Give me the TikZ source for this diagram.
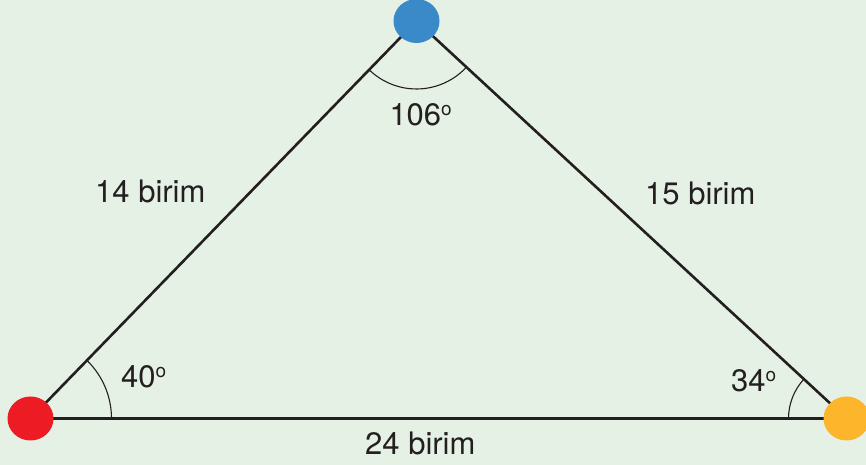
\documentclass[tikz,border=0pt]{standalone}
\usepackage{fontspec}
\setmainfont{TeX Gyre Heros}
\usetikzlibrary{shapes.geometric}
\definecolor{bg}{HTML}{E6F1E5}
\definecolor{ink}{HTML}{231F20}
\definecolor{dotred}{HTML}{ED1C24}
\definecolor{dotblue}{HTML}{3A89C9}
\definecolor{dotorange}{HTML}{FDB62B}
\tikzset{
  side/.style={draw=ink, line width=2.6pt},
  anglearc/.style={draw=ink, line width=1.1pt},
  vertexdot/.style={ellipse, minimum width=46pt, minimum height=44pt, inner sep=0pt},
  lbl/.style={anchor=base west, inner sep=0pt, text=ink, font=\fontsize{31}{36}\selectfont}
}
\newcommand{\degsup}{{\fontsize{19}{19}\selectfont\raisebox{10pt}{o}}}
\begin{document}
\begin{tikzpicture}[x=1pt, y=1pt]
  \fill[bg] (0,0) rectangle (866,465);
  \useasboundingbox (0,0) rectangle (866,465);
  % vertex centres
  \coordinate (A) at (30.5,46.5);
  \coordinate (B) at (416.5,444);
  \coordinate (C) at (846.5,46.5);
  % sides
  \draw[side] (A) -- (B);
  \draw[side] (B) -- (C);
  \draw[side] (A) -- (C);
  % angle arcs
  \draw[anglearc] ([shift={(0:81)}]A) arc[start angle=0, end angle=45.84, radius=81];
  \draw[anglearc] ([shift={(225.84:68)}]B) arc[start angle=225.84, end angle=317.25, radius=68];
  \draw[anglearc] ([shift={(137.25:58)}]C) arc[start angle=137.25, end angle=180, radius=58];
  % vertex dots
  \node[vertexdot, fill=dotred] (red) at (A) {};
  \node[vertexdot, fill=dotblue] (blue) at (B) {};
  \node[vertexdot, fill=dotorange] (orange) at (C) {};
  % labels
  \node[lbl] (l14) at (95,262) {14 birim};
  \node[lbl] (l15) at (645,260) {15 birim};
  \node[lbl] (l24) at (365,10.7) {24 birim};
  \node[lbl] (a106) at (389.3,339) {106\degsup};
  \node[lbl] (a40) at (121,77) {40\degsup};
  \node[lbl] (a34) at (731,73) {34\degsup};
\end{tikzpicture}
\end{document}
